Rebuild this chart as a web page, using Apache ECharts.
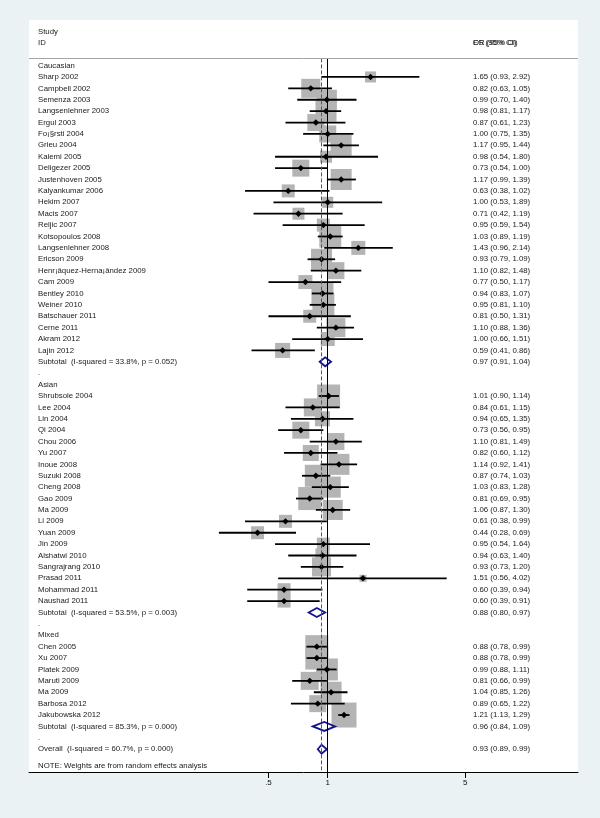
<!DOCTYPE html>
<html>
<head>
<meta charset="utf-8">
<script src="https://cdn.jsdelivr.net/npm/echarts@6/dist/echarts.min.js"></script>
<style>
html, body { margin: 0; padding: 0; background: #eaf2f3; }
#chart { width: 600px; height: 818px; }
</style>
</head>
<body>
<div id="chart"></div>
<script>
// Caucasian
const cauNames = ['Sharp 2002', 'Campbell 2002', 'Semenza 2003', 'Langsenlehner 2003', 'Ergul 2003',
  'Fo¡§rsti 2004', 'Grieu 2004', 'Kalemi 2005', 'Deligezer 2005', 'Justenhoven 2005', 'Kalyankumar 2006',
  'Hekim 2007', 'Macis 2007', 'Reljic 2007', 'Kotsopoulos 2008', 'Langsenlehner 2008', 'Ericson 2009',
  'Henr¡âquez-Herna¡ândez 2009', 'Cam 2009', 'Bentley 2010', 'Weiner 2010', 'Batschauer 2011',
  'Cerne 2011', 'Akram 2012', 'Lajin 2012']
const cauOR = [1.65, 0.82, 0.99, 0.98, 0.87, 1.00, 1.17, 0.98, 0.73, 1.17, 0.63, 1.00, 0.71, 0.95, 1.03, 1.43, 0.93, 1.10, 0.77, 0.94, 0.95, 0.81, 1.10, 1.00, 0.59]
const cauLo = [0.93, 0.63, 0.70, 0.81, 0.61, 0.75, 0.95, 0.54, 0.54, 0.99, 0.38, 0.53, 0.42, 0.59, 0.89, 0.96, 0.79, 0.82, 0.50, 0.83, 0.81, 0.50, 0.88, 0.66, 0.41]
const cauHi = [2.92, 1.05, 1.40, 1.17, 1.23, 1.35, 1.44, 1.80, 1.00, 1.39, 1.02, 1.89, 1.19, 1.54, 1.19, 2.14, 1.09, 1.48, 1.17, 1.07, 1.10, 1.31, 1.36, 1.51, 0.86]
const cauW = [0.75, 2.23, 2.47, 2.72, 1.78, 1.78, 2.72, 0.89, 1.78, 2.72, 1.04, 0.75, 0.89, 1.04, 2.98, 1.21, 2.72, 1.78, 1.21, 2.98, 2.98, 1.04, 2.23, 1.21, 1.39]

// Asian
const asiNames = ['Shrubsole 2004', 'Lee 2004', 'Lin 2004', 'Qi 2004', 'Chou 2006', 'Yu 2007', 'Inoue 2008',
  'Suzuki 2008', 'Cheng 2008', 'Gao 2009', 'Ma 2009', 'Li 2009', 'Yuan 2009', 'Jin 2009', 'Alshatwi 2010',
  'Sangrajrang 2010', 'Prasad 2011', 'Mohammad 2011', 'Naushad 2011']
const asiOR = [1.01, 0.84, 0.94, 0.73, 1.10, 0.82, 1.14, 0.87, 1.03, 0.81, 1.06, 0.61, 0.44, 0.95, 0.94, 0.93, 1.51, 0.60, 0.60]
const asiLo = [0.90, 0.61, 0.65, 0.56, 0.81, 0.60, 0.92, 0.74, 0.83, 0.69, 0.87, 0.38, 0.28, 0.54, 0.63, 0.73, 0.56, 0.39, 0.39]
const asiHi = [1.14, 1.15, 1.35, 0.95, 1.49, 1.12, 1.41, 1.03, 1.28, 0.95, 1.30, 0.99, 0.69, 1.64, 1.40, 1.20, 4.02, 0.94, 0.91]
const asiW = [3.26, 2.00, 1.39, 1.78, 1.78, 1.58, 2.72, 2.98, 2.72, 3.26, 2.47, 1.04, 1.04, 1.04, 1.21, 2.23, 0.30, 1.04, 1.04]

// Mixed
const mixNames = ['Chen 2005', 'Xu 2007', 'Platek 2009', 'Maruti 2009', 'Ma 2009', 'Barbosa 2012', 'Jakubowska 2012']
const mixOR = [0.88, 0.88, 0.99, 0.81, 1.04, 0.89, 1.21]
const mixLo = [0.78, 0.78, 0.88, 0.66, 0.85, 0.65, 1.13]
const mixHi = [0.99, 0.99, 1.11, 0.99, 1.26, 1.22, 1.29]
const mixW = [3.26, 3.26, 2.98, 2.00, 2.72, 1.78, 3.85]

// subtotals and overall
const groupTitles = ['Caucasian', 'Asian', 'Mixed']
const subLabels = ['Subtotal  (I-squared = 33.8%, p = 0.052)', 'Subtotal  (I-squared = 53.5%, p = 0.003)', 'Subtotal  (I-squared = 85.3%, p = 0.000)']
const subOR = [0.97, 0.88, 0.96]
const subLo = [0.91, 0.80, 0.84]
const subHi = [1.04, 0.97, 1.09]
const overallLabel = 'Overall  (I-squared = 60.7%, p = 0.000)'
const overallOR = 0.93
const overallLo = 0.89
const overallHi = 0.99

// axis
const xTicks = [0.5, 1, 5]
const xTickLabels = ['.5', '1', '5']

const font = 'Liberation Sans, Arial, sans-serif'
const ci = (o, l, h) => o.toFixed(2) + ' (' + l.toFixed(2) + ', ' + h.toFixed(2) + ')'

const groups = [
  { names: cauNames, or: cauOR, lo: cauLo, hi: cauHi, w: cauW },
  { names: asiNames, or: asiOR, lo: asiLo, hi: asiHi, w: asiW },
  { names: mixNames, or: mixOR, lo: mixLo, hi: mixHi, w: mixW }
]

// build rows
const textRows = [[-3, 'Study', ''], [-2, 'ID', '']]
const studyData = []
const diamondData = []
let row = 0
groups.forEach((g, gi) => {
  textRows.push([row, groupTitles[gi], '']); row++
  g.names.forEach((n, i) => {
    studyData.push([Math.log(g.or[i]), Math.log(g.lo[i]), Math.log(g.hi[i]), row, g.w[i]])
    textRows.push([row, n, ci(g.or[i], g.lo[i], g.hi[i])]); row++
  })
  diamondData.push([Math.log(subOR[gi]), Math.log(subLo[gi]), Math.log(subHi[gi]), row])
  textRows.push([row, subLabels[gi], ci(subOR[gi], subLo[gi], subHi[gi])]); row++
  textRows.push([row, '.', '']); row++
})
diamondData.push([Math.log(overallOR), Math.log(overallLo), Math.log(overallHi), row])
textRows.push([row, overallLabel, ci(overallOR, overallLo, overallHi)])
textRows.push([61.45, 'NOTE: Weights are from random effects analysis', ''])

const headerRow = -0.63
const bottomRow = 62

const chart = echarts.init(document.getElementById('chart'))
chart.setOption({
  backgroundColor: '#eaf2f3',
  animation: false,
  grid: { left: 29, right: 22, top: 20, bottom: 46, show: true, backgroundColor: '#ffffff', borderWidth: 0 },
  xAxis: {
    type: 'value',
    position: 'bottom',
    min: -3.494,
    max: 2.927,
    splitLine: { show: false },
    axisLine: { show: true, onZero: false, lineStyle: { color: '#000', width: 1 } },
    axisTick: { show: true, length: 6, customValues: xTicks.map(Math.log), lineStyle: { color: '#000', width: 1 } },
    axisLabel: {
      customValues: xTicks.map(Math.log),
      fontSize: 8, color: '#111', fontFamily: font, margin: 7,
      formatter: v => {
        const i = xTicks.findIndex(t => Math.abs(Math.log(t) - v) < 1e-6)
        return i >= 0 ? xTickLabels[i] : ''
      }
    }
  },
  yAxis: { type: 'value', inverse: true, min: -4, max: bottomRow, show: false },
  series: [
    {
      // reference lines
      type: 'line', data: [], silent: true, z: 1,
      markLine: {
        silent: true, symbol: 'none', label: { show: false }, animation: false,
        data: [
          [{ coord: [0, headerRow], lineStyle: { color: '#000', width: 1, type: 'solid' } }, { coord: [0, bottomRow] }],
          [{ coord: [Math.log(overallOR), headerRow], lineStyle: { color: '#a8324a', width: 1, type: [4, 2] } }, { coord: [Math.log(overallOR), bottomRow] }],
          { yAxis: headerRow, lineStyle: { color: '#a6a6a6', width: 1, type: 'solid' } }
        ]
      }
    },
    {
      // weight boxes
      type: 'custom', z: 2,
      data: studyData,
      renderItem: (params, api) => {
        const c = api.coord([api.value(0), api.value(3)])
        const s = 12.74 * Math.sqrt(api.value(4))
        return { type: 'rect', shape: { x: c[0] - s / 2, y: c[1] - s / 2, width: s, height: s }, style: { fill: '#b4b4b4' } }
      }
    },
    {
      // CI lines and point estimates
      type: 'custom', z: 3,
      data: studyData,
      renderItem: (params, api) => {
        const c = api.coord([api.value(0), api.value(3)])
        const l = api.coord([api.value(1), api.value(3)])
        const r = api.coord([api.value(2), api.value(3)])
        const d = 3.2
        return {
          type: 'group', children: [
            { type: 'line', shape: { x1: l[0], y1: l[1], x2: r[0], y2: r[1] }, style: { stroke: '#000', lineWidth: 1.8 } },
            { type: 'polygon', shape: { points: [[c[0] - d, c[1]], [c[0], c[1] - d], [c[0] + d, c[1]], [c[0], c[1] + d]] }, style: { fill: '#000' } }
          ]
        }
      }
    },
    {
      // pooled diamonds
      type: 'custom', z: 3,
      data: diamondData,
      renderItem: (params, api) => {
        const c = api.coord([api.value(0), api.value(3)])
        const l = api.coord([api.value(1), api.value(3)])
        const r = api.coord([api.value(2), api.value(3)])
        const h = 4.5
        return {
          type: 'polygon',
          shape: { points: [[l[0], c[1]], [c[0], c[1] - h], [r[0], c[1]], [c[0], c[1] + h]] },
          style: { fill: 'none', stroke: '#14148c', lineWidth: 1.8 }
        }
      }
    },
    {
      // text columns
      type: 'custom', z: 4,
      data: textRows.map(t => [0, t[0]]),
      renderItem: (params, api) => {
        const t = textRows[params.dataIndex]
        const y = api.coord([0, api.value(1)])[1]
        const st = { fontSize: 7.8, fontFamily: font, fill: '#1a1a1a', textVerticalAlign: 'middle', textAlign: 'left' }
        const children = [{ type: 'text', x: 38, y: y, style: Object.assign({ text: t[1] }, st) }]
        if (t[2]) children.push({ type: 'text', x: 473, y: y, style: Object.assign({ text: t[2] }, st) })
        return { type: 'group', children: children }
      }
    },
    {
      // column header (two overlapping headers as in the original)
      type: 'custom', z: 4,
      data: [[0, -2]],
      renderItem: (params, api) => {
        const y = api.coord([0, api.value(1)])[1]
        const st = { fontSize: 7.8, fontFamily: font, fill: '#1a1a1a', textVerticalAlign: 'middle', textAlign: 'left' }
        return {
          type: 'group', children: [
            { type: 'text', x: 473, y: y, style: Object.assign({ text: 'ES (95% CI)' }, st) },
            { type: 'text', x: 473, y: y, style: Object.assign({ text: 'OR (95% CI)' }, st) }
          ]
        }
      }
    }
  ]
})
</script>
</body>
</html>
